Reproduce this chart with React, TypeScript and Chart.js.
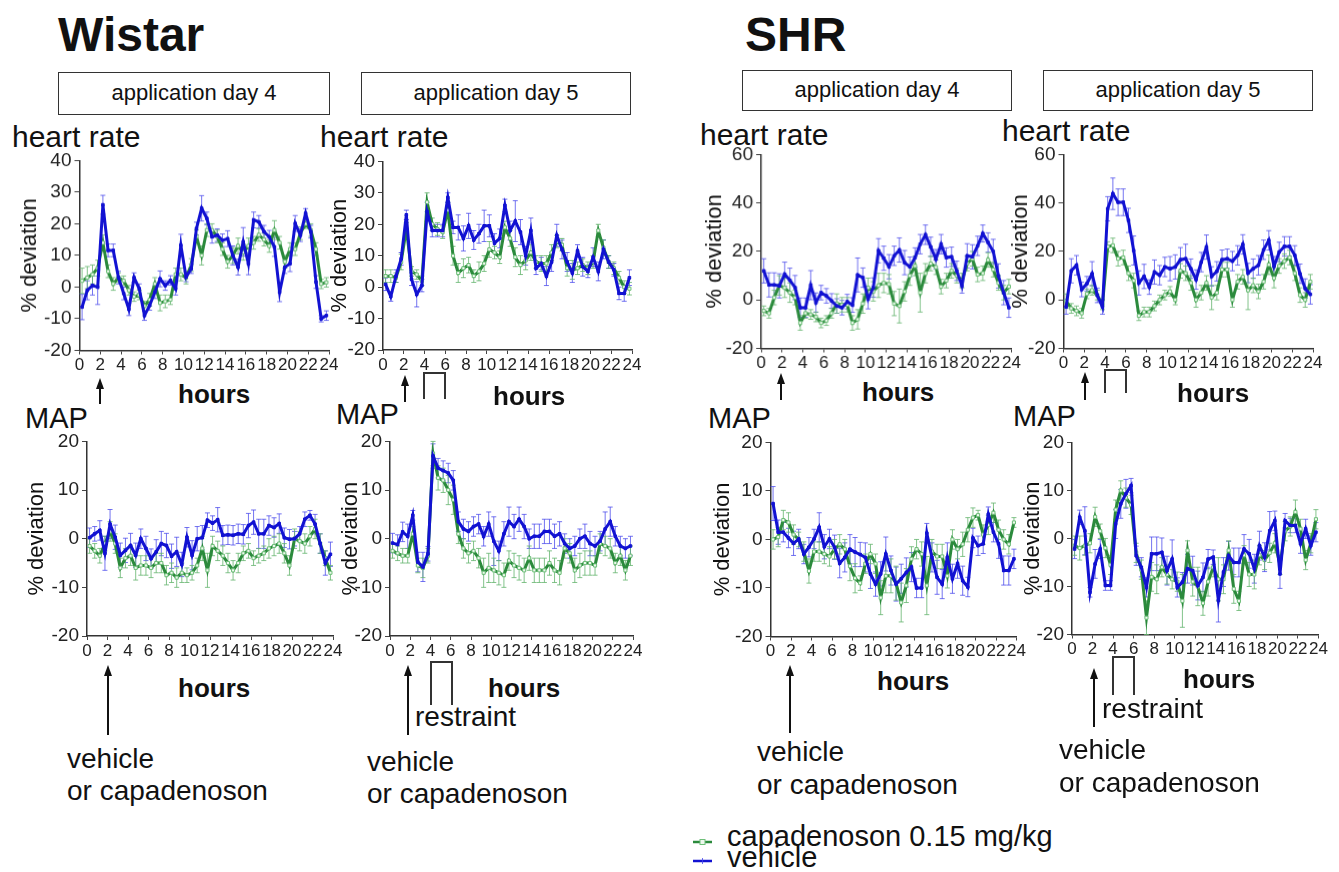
import React, { useEffect, useRef } from 'react';
import { Chart, registerables } from 'chart.js';

Chart.register(...registerables);

const FONT = "'Liberation Sans', Arial, Helvetica, sans-serif";
Chart.defaults.font.family = FONT;

// ---------- data ----------
const HOURS = [0.25, 0.75, 1.25, 1.75, 2.25, 2.75, 3.25, 3.75, 4.25, 4.75, 5.25, 5.75, 6.25, 6.75, 7.25, 7.75,
  8.25, 8.75, 9.25, 9.75, 10.25, 10.75, 11.25, 11.75, 12.25, 12.75, 13.25, 13.75, 14.25, 14.75, 15.25, 15.75,
  16.25, 16.75, 17.25, 17.75, 18.25, 18.75, 19.25, 19.75, 20.25, 20.75, 21.25, 21.75, 22.25, 22.75, 23.25, 23.75];

const SERIES_NAMES = ['capadenoson 0.15 mg/kg', 'vehicle'];

// Wistar heart rate, day 4
const W_HR4_VEH = [-6.3, -1, 0.5, 0, 26, 11.6, 11.6, 3, -2, -7, 3, -0.5, -9, -5.8, -1.6, 2.6, 0.5, 2.1, -0.5, 13.2, 3.2, 5.8, 18.5, 24.9, 21.7, 15.9, 16.4, 14.8, 15.3, 10, 6.3, 14.3, 7.4, 21.2, 20.6, 17.5, 15.9, 12.7, -1.6, 6.3, 7.4, 20.1, 16.4, 23.3, 17.5, 1.6, -10, -9];
const W_HR4_VEH_SEM = [4, 3, 3, 5.5, 3, 2, 2, 2, 2, 2, 1.5, 1.5, 1.5, 1.5, 2, 2.5, 1.5, 1.5, 2, 3.5, 1.5, 1.5, 2, 4, 2, 2, 2, 2, 2.5, 3, 2.5, 4.5, 3.5, 2.5, 2, 2, 2, 3, 3, 2, 2.5, 2.5, 2, 1.5, 2, 2, 1, 1.5];
const W_HR4_CAP = [2, 3, 4, 6, 14, 5, 1, 3, 2, -1, -3, -2.5, -6, -4, 1, -5, -4.5, -4, 4, 4, 3, 7, 16, 10, 18, 18, 16, 12, 8, 10, 13, 11, 13, 14, 16.5, 15, 13, 18, 14, 8, 12, 12, 17, 20, 18, 12, 1, 1.5];
const W_HR4_CAP_SEM = [4, 3.5, 3, 2.5, 2.5, 2, 2, 1.5, 1.5, 1.5, 1.5, 1.5, 1.5, 2, 2, 2.5, 2, 1.5, 2, 2, 2, 2, 2, 3, 2, 2, 2, 2, 2, 2.5, 2.5, 2.5, 2.5, 2, 2, 2, 2, 3, 2, 2, 2, 2, 2, 1.5, 2, 2, 1.5, 1.5];

// Wistar heart rate, day 5
const W_HR5_VEH = [0.9, -3, 3.5, 9, 23, 2.5, -2.3, 0.5, 24, 18, 18, 18, 28.5, 19, 19, 15.5, 19.5, 15, 17, 19.5, 19.5, 14, 15.5, 26, 18, 21, 17.5, 10, 18, 6, 7.5, 3.5, 8, 16.5, 12, 8, 4.5, 11.5, 6.5, 5, 9.5, 5, 12, 8, 5.5, -2, -2, 3];
const W_HR5_VEH_SEM = [2, 1.5, 2, 2, 1.5, 2, 4, 2, 3, 2, 2, 2, 1.5, 2, 4, 4, 4, 3, 3, 5, 3.5, 3, 3, 2, 3, 6.5, 4, 3, 4, 2, 2, 3, 3, 3.5, 3, 3, 3, 2, 3, 2, 3, 3, 3, 2, 2, 2, 2.5, 2.5];
const W_HR5_CAP = [3.5, 3.5, 3, 8, 18.5, 5, 4, 2, 27, 20, 18.5, 17.5, 24.5, 10, 4.5, 6, 7, 3.5, 5, 7.5, 12, 11, 9.5, 19, 15.5, 9.5, 7, 8.5, 11, 8, 7.5, 7.5, 11, 14.5, 13.5, 6, 5.5, 6, 7, 6, 8, 18, 12.5, 8, 6, 3, 0, -0.5];
const W_HR5_CAP_SEM = [2, 2, 1.5, 2.5, 2, 1.5, 1.5, 1.5, 3, 2, 2, 2, 2.5, 3, 3, 3, 2.5, 2, 3, 2.5, 2.5, 2, 2, 2, 2.5, 3, 3, 3, 2.5, 2, 2.5, 2.5, 2.5, 2, 2, 2.5, 3, 2, 2, 2, 2, 2, 2.5, 2, 2, 2, 2, 2];

// Wistar MAP, day 4
const W_MAP4_VEH = [0.2, 1, 1.7, -3, 3, 0.3, -3.4, -2.4, -1.4, -3.4, 0, -2, -4.1, -2.7, -1, -1.4, -3.6, -2.7, -5.3, 0.3, -3.4, 0, 0.2, 3.8, 3.2, 3.9, 0.7, 0.8, 0.7, 1, 0.9, 2.7, 3.4, 1, 1, 2.7, 2.3, 3.1, 0.2, -0.1, 0, 1, 4, 4.8, 3, -1, -5, -3.2];
const W_MAP4_VEH_SEM = [2, 1.5, 2, 3.5, 3, 2.5, 2.5, 2.5, 2.5, 2.5, 2, 2.5, 2, 2.5, 2.5, 2.5, 2.5, 3, 2.5, 2, 3, 2.5, 2.5, 1.5, 1.5, 2.5, 2, 2, 2, 2, 2, 2.5, 2.5, 3, 3, 2, 2, 2, 2, 2, 1.5, 1.5, 1.5, 1, 2, 2, 2.5, 2.5];
const W_MAP4_CAP = [-1.5, -2.5, -3.5, -1, 1.5, -1, -6, -4, -3.5, -6, -5.5, -5.5, -6, -5, -5, -7.5, -7, -8, -7, -7.5, -7, -5.5, -2, -6.5, -1.5, -2.5, -3.5, -5, -6.5, -5, -3, -2.5, -4, -3.5, -3, -2, -1.5, -1, -3, -5.5, 0, -0.5, -1, 0.5, 2, -1, -4, -7];
const W_MAP4_CAP_SEM = [1.5, 1.5, 1.5, 1.5, 2, 2, 2, 2, 2, 2.5, 2, 2, 2, 2, 2, 2, 2, 2, 2, 1.5, 1.5, 1.5, 2.5, 3.5, 2, 2, 2, 2, 2, 2, 1.5, 1.5, 1.5, 1.5, 1.5, 2, 2, 2, 2, 2, 2, 2, 2, 2, 2, 2, 1.5, 1.5];

// Wistar MAP, day 5
const W_MAP5_VEH = [-0.9, -1.2, 1.4, 0.5, 4.8, -4.8, -5.8, -3.1, 17, 14.5, 14, 13.5, 12, 3.5, 2, 1.5, 2.5, 3, 0.5, 3, -0.5, -2.5, 1, 3.5, 2.5, 4, 2.5, 0, 0.5, 0.5, 1.5, 1.5, 0.5, 1, -1, -2, -1.5, 0, 0.5, -1, -1.5, -0.5, 2, 3.5, 0.5, -1.5, -2, -1.5];
const W_MAP5_VEH_SEM = [2, 2, 2, 2.5, 1, 2, 3, 1.5, 2.5, 2, 2, 2, 2, 2, 2, 2, 2, 2, 2, 2.5, 5, 2, 2.5, 3, 2.5, 2.5, 2.5, 2, 2.5, 2.5, 2.5, 2.5, 2.5, 2.5, 2, 2, 2, 2, 2.5, 2.5, 2, 2, 3.5, 3, 2, 2, 2, 2];
const W_MAP5_CAP = [-2.5, -3, -3.5, -3.5, 1, -5.5, -6, -3.5, 17.5, 12.5, 12, 10, 8, 1, -2, -3, -2.5, -4, -7, -6, -6.5, -7, -7.5, -4.5, -5.5, -6, -6.5, -4, -6.5, -6.5, -6.5, -5, -6.5, -7, -2, -3, -6.5, -5.5, -5, -5, -5.5, -1, -1.5, -2, -5, -3.5, -6.5, -3.5];
const W_MAP5_CAP_SEM = [1.5, 1.5, 1.5, 1.5, 1.5, 1.5, 2, 1.5, 2.5, 2.5, 2.5, 3, 3, 2, 2, 2, 2, 2, 3, 3, 2.5, 2.5, 2.5, 2, 2.5, 2.5, 2.5, 2.5, 2.5, 2.5, 2.5, 2.5, 2.5, 2.5, 2, 2, 2.5, 2.5, 2.5, 2.5, 2, 2, 2, 2, 2, 2, 2, 2];

// SHR heart rate, day 4
const S_HR4_VEH = [12, 6.2, 6.2, 5.8, 10.6, 8.1, 5.1, -3.2, -3.2, 6.1, -1.1, 3, 1.7, -0.4, -2.5, -3.2, -0.7, -2.1, 10.3, 9.2, 0.3, 5.1, 20.3, 17.2, 13.7, 18.2, 20.6, 15.4, 13.7, 17.5, 23, 26.9, 21.9, 16.8, 23, 17.5, 17.8, 12, 5.8, 18.2, 17.8, 22.3, 27.4, 23.7, 20, 9.9, 3, -3.2];
const S_HR4_VEH_SEM = [5, 5, 5, 5, 5, 5, 5, 4, 4, 6, 4, 3, 3, 3, 3, 3, 3, 3, 7, 4, 4, 4, 5, 5, 5, 4, 5, 5, 4, 4, 4, 4, 4, 4, 4, 4, 4, 4, 3, 5, 5, 4, 3.5, 4, 5, 5, 5, 4];
const S_HR4_CAP = [-4.5, -5.5, 1, 6, 5, 3, 1, -9.5, -5.5, -6, -7, -9.5, -8.5, -5.5, -1.5, -2, -2, -9.5, -8, -1.5, 5, 3.5, 6, 7, 6.5, -1.5, -2.5, 3.5, 10, 14, 3, 11, 15, 13.5, 5.5, 8, 12, 10, 8, 15, 17, 10.5, 11, 16.5, 12.5, 7, 3, 5.5];
const S_HR4_CAP_SEM = [2, 2, 3, 4, 4, 4, 3, 3, 2, 2, 2, 2, 2, 2, 4, 3, 3, 3, 4, 4, 4, 4, 5, 4, 4, 5, 7, 4, 4, 4, 8, 4, 3, 3, 3, 3, 3, 3, 3, 3, 3, 3, 3, 3, 3, 3, 3, 3];

// SHR heart rate, day 5
const S_HR5_VEH = [-2.9, 12, 14.3, 4.3, 6.7, 10.8, 1.9, -2.9, 37.6, 43.8, 40.3, 40.3, 32.8, 20.4, 7, 9.7, 5.3, 11.5, 10.2, 13.6, 12.9, 13.6, 16.6, 17, 12.9, 8.4, 15.6, 21.8, 9.7, 11.8, 16.6, 17, 16, 18.4, 22.9, 11.1, 12.9, 14.3, 20.7, 24.6, 13.9, 19.8, 22.1, 22.1, 18.4, 10.8, 4.7, 2.3];
const S_HR5_VEH_SEM = [3, 5, 4, 3, 3, 5, 3, 3, 5, 6.5, 5.5, 5.5, 5, 6, 5, 5, 3, 5, 4, 4, 5, 5, 5, 6, 4, 4, 4, 5, 4, 4, 4, 4, 4, 4, 4, 4, 4, 4, 4, 4, 4, 4, 4, 4, 4, 4, 4, 4];
const S_HR5_CAP = [-0.5, -3.5, -4.5, -5.5, 2.5, 4, 2, -2, 22, 22.5, 17, 17.5, 11, 8, -6.5, -5, -5, -2.5, 0, 2, 3.5, 0, 12, 11, 7, 0, 3, 7, 1, 3, 12.5, 12.5, 0, 7.5, 9.5, 4, 6, 3.5, 7.5, 14.5, 9, 14, 16, 17.5, 11, 2, 0, 7.5];
const S_HR5_CAP_SEM = [3, 2, 2, 2, 2, 2, 2, 2, 2, 3, 3, 3, 3, 3, 2, 2, 2, 2, 2, 2, 2, 2, 3, 3, 3, 3, 3, 3, 5, 3, 3, 3, 3, 3, 3, 8, 3, 3, 3, 4, 4, 3, 3, 3, 3, 3, 3, 3];

// SHR MAP, day 4
const S_MAP4_VEH = [7.4, 1.5, 1.5, 0.3, -0.8, 0.1, -3, -1.6, 0.1, 2.5, -1.5, 0.1, -1.6, -4.9, -3.7, -2, -2.6, -3.1, -3.7, -7.1, -9.2, -7.1, -3, -6.4, -9.2, -8.1, -6.8, -5.7, -10, -10, 1.3, -3.7, -7.8, -9.2, -3.7, -8.1, -5, -8.5, -9.8, 0.3, -1.3, -0.9, 5.2, 1.5, -0.9, -6.4, -6.4, -4];
const S_MAP4_VEH_SEM = [3.5, 2.5, 2, 2, 2.5, 2, 2, 2, 2, 3, 2.5, 2, 2.5, 3, 3, 3, 3, 2.5, 3, 3, 2.5, 2.5, 3.5, 3, 3.5, 3, 3, 3, 2, 2, 2, 3, 3.5, 3, 3, 3, 3, 3, 2, 2, 2, 2, 1.5, 2, 3, 3, 3, 2];
const S_MAP4_CAP = [0, 0.5, 4, 3.5, 1, 0, -2.5, -6.5, -2.5, -2.5, -3, -3.5, -2, -1, -2, -5.5, -8, -9, -5, -3, -5, -12, -7.5, -7.5, -9, -13, -9.5, -4, -2, -3, -9.5, -2.5, -3.5, -3.5, -7.5, 0, -2, -1, 2, 4.5, 5, 1, 3, 5.5, 2, 0, -1, 3.5];
const S_MAP4_CAP_SEM = [2, 2, 2, 2, 2, 1.5, 2, 2.5, 2, 2, 2, 2, 2, 2, 2, 3, 3, 1.5, 2, 2, 2, 3.5, 3.5, 3.5, 3.5, 4, 3.5, 2.5, 2, 2.5, 6, 2.5, 2.5, 2.5, 2.5, 2, 2, 2.5, 2.5, 2, 1, 2, 2, 2, 2, 2, 2, 1];

// SHR MAP, day 5
const S_MAP5_VEH = [-2.2, 4.4, 1.6, -11.2, -5.3, -2.2, -9.8, -9.8, 3, 7.2, 9.3, 11, -3.6, -6, -10.2, -3.2, -3.2, -2.9, -6.7, -4.3, -10.2, -9.1, -6.3, -6.7, -9.8, -8.1, -4.3, -3.9, -12.9, -7, -3.6, -5, -5, -2.2, -3.2, -6.3, -1.5, -3.9, 1.6, 3.7, -7.4, 3.7, 2.7, 2.7, -1.1, 2, -1.5, 1.3];
const S_MAP5_VEH_SEM = [2, 1.5, 5, 1, 3, 2, 1, 1, 3, 3, 3, 1.5, 2, 2, 2, 3.5, 3.5, 3, 3, 4, 2, 2, 3, 3, 3, 3, 2, 1.5, 4.5, 3, 3, 3, 3, 3, 3, 3, 3, 3, 4, 2, 3, 1.5, 1.5, 1.5, 2, 2, 2, 2];
const S_MAP5_CAP = [-1.5, -2, -1.5, -1, 4.5, 1.5, -2, -5.5, 6, 10, 8.5, 7, -3, -6.5, -16.5, -8, -8.5, -6, -7.5, -8.5, -9, -13, -2.5, -9, -10, -13.5, -9, -6, -8.5, -8.5, -2.5, -10.5, -13, -3.5, -7.5, -7.5, -3.5, -4.5, -3, -1, -5.5, 1.5, 2.5, 5.5, 2, -4.5, -1, 4];
const S_MAP5_CAP_SEM = [2, 2.5, 2, 2, 2, 1.5, 2, 2, 2, 2, 2, 2, 2, 2, 3.5, 3, 3, 2, 2, 2, 2, 5.5, 2, 3, 4, 2.5, 3, 2, 4.5, 3, 2, 3, 2, 2, 2.5, 3, 2, 2, 2, 2, 2, 2, 2, 2.5, 2, 2, 2, 2];

// ---------- layout / style ----------
const PAD_T = 14;
const PAD_R = 14;
const X_H = 27;
const BLUE = '#1212d2';
const GREEN = '#2b8a3c';

type PanelCfg = {
  x0: number; x24: number; yTop: number; yBot: number; yW: number;
  yMin: number; yMax: number; step: number; every: number;
  veh: number[]; vehSem: number[]; cap: number[]; capSem: number[];
};

const PANELS: PanelCfg[] = [
  { x0: 79.5, x24: 329, yTop: 160, yBot: 349.5, yW: 60.5, yMin: -20, yMax: 40, step: 10, every: 10, veh: W_HR4_VEH, vehSem: W_HR4_VEH_SEM, cap: W_HR4_CAP, capSem: W_HR4_CAP_SEM },
  { x0: 383, x24: 632, yTop: 161, yBot: 350, yW: 54, yMin: -20, yMax: 40, step: 10, every: 10, veh: W_HR5_VEH, vehSem: W_HR5_VEH_SEM, cap: W_HR5_CAP, capSem: W_HR5_CAP_SEM },
  { x0: 87, x24: 333, yTop: 441, yBot: 636, yW: 61, yMin: -20, yMax: 20, step: 5, every: 10, veh: W_MAP4_VEH, vehSem: W_MAP4_VEH_SEM, cap: W_MAP4_CAP, capSem: W_MAP4_CAP_SEM },
  { x0: 390, x24: 633, yTop: 441, yBot: 636, yW: 50, yMin: -20, yMax: 20, step: 5, every: 10, veh: W_MAP5_VEH, vehSem: W_MAP5_VEH_SEM, cap: W_MAP5_CAP, capSem: W_MAP5_CAP_SEM },
  { x0: 761, x24: 1010.5, yTop: 154, yBot: 347.5, yW: 57, yMin: -20, yMax: 60, step: 10, every: 20, veh: S_HR4_VEH, vehSem: S_HR4_VEH_SEM, cap: S_HR4_CAP, capSem: S_HR4_CAP_SEM },
  { x0: 1063.5, x24: 1313, yTop: 154, yBot: 347.5, yW: 53.5, yMin: -20, yMax: 60, step: 10, every: 20, veh: S_HR5_VEH, vehSem: S_HR5_VEH_SEM, cap: S_HR5_CAP, capSem: S_HR5_CAP_SEM },
  { x0: 770, x24: 1016, yTop: 441.5, yBot: 636, yW: 58.5, yMin: -20, yMax: 20, step: 5, every: 10, veh: S_MAP4_VEH, vehSem: S_MAP4_VEH_SEM, cap: S_MAP4_CAP, capSem: S_MAP4_CAP_SEM },
  { x0: 1071.5, x24: 1318, yTop: 441.5, yBot: 634, yW: 50, yMin: -20, yMax: 20, step: 5, every: 10, veh: S_MAP5_VEH, vehSem: S_MAP5_VEH_SEM, cap: S_MAP5_CAP, capSem: S_MAP5_CAP_SEM },
];

const errorBarPlugin = {
  id: 'errorBars',
  beforeDatasetsDraw(chart: any) {
    const { ctx, scales } = chart;
    const xs = scales.x;
    const ys = scales.y;
    chart.data.datasets.forEach((ds: any) => {
      const err: number[] = ds.errors;
      if (!err) return;
      ctx.save();
      ctx.strokeStyle = ds.errorColor;
      ctx.lineWidth = 1;
      ds.data.forEach((p: any, j: number) => {
        const px = xs.getPixelForValue(p.x);
        const y1 = ys.getPixelForValue(p.y + err[j]);
        const y2 = ys.getPixelForValue(p.y - err[j]);
        ctx.beginPath();
        ctx.moveTo(px, y1); ctx.lineTo(px, y2);
        ctx.moveTo(px - 2.5, y1); ctx.lineTo(px + 2.5, y1);
        ctx.moveTo(px - 2.5, y2); ctx.lineTo(px + 2.5, y2);
        ctx.stroke();
      });
      ctx.restore();
    });
  },
};

function Panel({ p }: { p: PanelCfg }) {
  const ref = useRef<HTMLCanvasElement>(null);
  const left = p.x0 - p.yW;
  const top = p.yTop - PAD_T;
  const width = p.yW + (p.x24 - p.x0) + PAD_R;
  const height = PAD_T + (p.yBot - p.yTop) + X_H;

  useEffect(() => {
    const mk = (vals: number[]) => HOURS.map((h, i) => ({ x: h, y: vals[i] }));
    const chart = new Chart(ref.current as HTMLCanvasElement, {
      type: 'line',
      data: {
        datasets: [
          {
            label: SERIES_NAMES[1],
            data: mk(p.veh),
            errors: p.vehSem,
            errorColor: 'rgba(70,70,235,0.75)',
            borderColor: BLUE,
            borderWidth: 3,
            pointStyle: 'rect',
            pointRadius: 1.8,
            pointBackgroundColor: BLUE,
            pointBorderColor: BLUE,
            pointBorderWidth: 1,
            tension: 0,
          } as any,
          {
            label: SERIES_NAMES[0],
            data: mk(p.cap),
            errors: p.capSem,
            errorColor: 'rgba(100,180,110,0.8)',
            borderColor: GREEN,
            borderWidth: 3,
            pointStyle: 'rect',
            pointRadius: 2.2,
            pointBackgroundColor: '#eef8ee',
            pointBorderColor: '#6fbf7a',
            pointBorderWidth: 1,
            tension: 0,
          } as any,
        ],
      },
      options: {
        animation: false,
        responsive: true,
        maintainAspectRatio: false,
        layout: { padding: { top: PAD_T, right: PAD_R, left: 0, bottom: 0 } },
        plugins: { legend: { display: false }, tooltip: { enabled: false } },
        scales: {
          x: {
            type: 'linear',
            min: 0,
            max: 24,
            afterFit: (s: any) => { s.height = X_H; },
            ticks: { stepSize: 2, autoSkip: false, maxRotation: 0, minRotation: 0, padding: 1, color: '#222', font: { size: 17, family: FONT } },
            grid: { drawOnChartArea: false, drawTicks: true, tickLength: 4, color: '#444', lineWidth: 1 },
            border: { display: true, color: '#333', width: 1.5 },
          },
          y: {
            type: 'linear',
            min: p.yMin,
            max: p.yMax,
            afterFit: (s: any) => { s.width = p.yW; },
            ticks: {
              stepSize: p.step,
              padding: 3,
              color: '#222',
              font: { size: 19, family: FONT },
              callback: (v: any) => (Number(v) % p.every === 0 ? String(v) : ''),
            },
            grid: { drawOnChartArea: false, drawTicks: true, tickLength: 5, color: '#444', lineWidth: 1 },
            border: { display: true, color: '#333', width: 1.5 },
            title: { display: true, text: '% deviation', color: '#111', font: { size: 22, family: FONT, lineHeight: 1 }, padding: { top: 0, bottom: 0 } },
          },
        },
      } as any,
      plugins: [errorBarPlugin],
    });
    return () => chart.destroy();
  }, []);

  return (
    <div style={{ position: 'absolute', left, top, width, height }}>
      <canvas ref={ref} />
    </div>
  );
}

function T({ x, b, size, bold, children }: { x: number; b: number; size: number; bold?: boolean; children: React.ReactNode }) {
  return (
    <div style={{
      position: 'absolute', left: x, top: b - 0.8465 * size, fontSize: size, lineHeight: `${size}px`,
      fontWeight: bold ? 'bold' : 'normal', whiteSpace: 'nowrap', color: '#111',
    }}>{children}</div>
  );
}

function Box({ x, y, w, h, text }: { x: number; y: number; w: number; h: number; text: string }) {
  return (
    <div style={{
      position: 'absolute', left: x, top: y, width: w, height: h, boxSizing: 'border-box',
      border: '1.5px solid #333', textAlign: 'center', fontSize: 22, lineHeight: `${h - 3}px`, color: '#111', whiteSpace: 'nowrap',
    }}>{text}</div>
  );
}

const ARROWS = [
  [100, 378, 404], [405, 375, 402], [781, 373, 400], [1085, 372, 400],
  [108, 665, 735], [408, 665, 735], [790, 665, 733], [1094, 668, 727],
];
const BRACKETS = [
  [424, 445, 373, 399], [1105, 1126, 370, 393], [431, 452, 662, 705], [1113, 1134, 657, 695],
];

function Overlay() {
  return (
    <svg width={1339} height={872} style={{ position: 'absolute', left: 0, top: 0, pointerEvents: 'none' }}>
      {ARROWS.map(([x, tip, tail], i) => (
        <g key={'a' + i}>
          <line x1={x} y1={tail} x2={x} y2={tip + 8} stroke="#111" strokeWidth={2} />
          <polygon points={`${x - 4},${tip + 11} ${x + 4},${tip + 11} ${x},${tip}`} fill="#111" />
        </g>
      ))}
      {BRACKETS.map(([x1, x2, t, b], i) => (
        <polyline key={'b' + i} points={`${x1},${b} ${x1},${t} ${x2},${t} ${x2},${b}`} fill="none" stroke="#333" strokeWidth={2} />
      ))}
      {/* legend markers */}
      <line x1={693} y1={842} x2={712} y2={842} stroke={GREEN} strokeWidth={2.5} />
      <rect x={700} y={839.5} width={5} height={5} fill="#eef8ee" stroke="#6fbf7a" strokeWidth={1} />
      <line x1={693} y1={861} x2={712} y2={861} stroke={BLUE} strokeWidth={2.5} />
      <line x1={702.5} y1={858} x2={702.5} y2={864} stroke="rgba(70,70,235,0.8)" strokeWidth={1} />
    </svg>
  );
}

export default function App() {
  return (
    <div style={{
      position: 'absolute', left: 0, top: 0, width: 1339, height: 872, background: '#fff',
      overflow: 'hidden', fontFamily: FONT, color: '#111',
    }}>
      <T x={58} b={52} size={48} bold>Wistar</T>
      <T x={745} b={52} size={48} bold>SHR</T>

      <Box x={58} y={72} w={272} h={43} text="application day 4" />
      <Box x={361} y={72} w={270} h={43} text="application day 5" />
      <Box x={742} y={70} w={270} h={41} text="application day 4" />
      <Box x={1043} y={70} w={270} h={41} text="application day 5" />

      <T x={12} b={147} size={30}>heart rate</T>
      <T x={320} b={147} size={30}>heart rate</T>
      <T x={700} b={145} size={30}>heart rate</T>
      <T x={1002} b={141} size={30}>heart rate</T>

      <T x={25} b={429} size={29}>MAP</T>
      <T x={336} b={425} size={29}>MAP</T>
      <T x={708} b={429} size={29}>MAP</T>
      <T x={1013} b={427} size={29}>MAP</T>

      {PANELS.map((p, i) => <Panel key={i} p={p} />)}

      <T x={178} b={403} size={26} bold>hours</T>
      <T x={493} b={405} size={26} bold>hours</T>
      <T x={862} b={401} size={26} bold>hours</T>
      <T x={1177} b={402} size={26} bold>hours</T>
      <T x={178} b={697} size={26} bold>hours</T>
      <T x={488} b={697} size={26} bold>hours</T>
      <T x={877} b={690} size={26} bold>hours</T>
      <T x={1183} b={688} size={26} bold>hours</T>

      <T x={415} b={727} size={28}>restraint</T>
      <T x={1102} b={719} size={28}>restraint</T>

      <T x={67} b={769} size={28}>vehicle</T>
      <T x={67} b={801} size={28}>or capadenoson</T>
      <T x={367} b={772} size={28}>vehicle</T>
      <T x={367} b={804} size={28}>or capadenoson</T>
      <T x={757} b={762} size={28}>vehicle</T>
      <T x={757} b={795} size={28}>or capadenoson</T>
      <T x={1059} b={760} size={28}>vehicle</T>
      <T x={1059} b={793} size={28}>or capadenoson</T>

      <T x={727} b={847} size={29}>{SERIES_NAMES[0]}</T>
      <T x={727} b={868} size={29}>{SERIES_NAMES[1]}</T>

      <Overlay />
    </div>
  );
}
